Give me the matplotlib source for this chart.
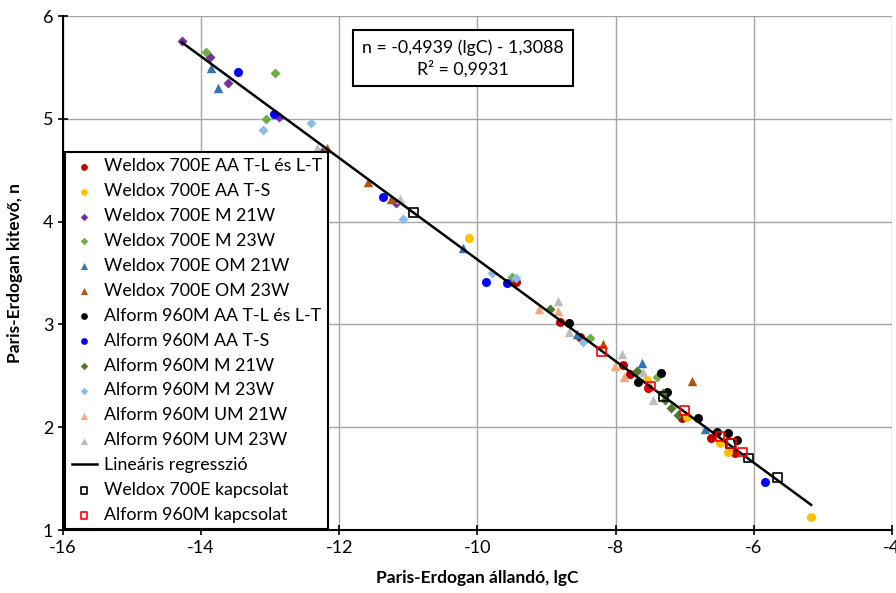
import matplotlib
matplotlib.use("Agg")
import matplotlib.pyplot as plt
import numpy as np

plt.rcParams['font.family'] = ['Lato', 'DejaVu Sans']
plt.rcParams['axes.unicode_minus'] = False

# data (lgC, n)
w_aa_tl_x = [-9.44, -8.81, -8.52, -7.89, -7.79, -7.53, -7.04, -6.62, -6.27]
w_aa_tl_y = [3.41, 3.02, 2.88, 2.61, 2.52, 2.38, 2.09, 1.90, 1.75]
w_aa_ts_x = [-10.12, -7.55, -6.97, -6.49, -6.37, -5.17]
w_aa_ts_y = [3.84, 2.46, 2.10, 1.85, 1.76, 1.13]
w_m21_x = [-14.28, -13.87, -13.61, -12.87, -12.25, -11.18]
w_m21_y = [5.76, 5.60, 5.35, 5.02, 4.68, 4.18]
w_m23_x = [-13.93, -12.93, -13.06, -9.50, -8.37, -7.40]
w_m23_y = [5.65, 5.45, 5.00, 3.46, 2.87, 2.49]
w_om21_x = [-13.86, -13.76, -10.21, -8.56, -7.62, -6.71]
w_om21_y = [5.49, 5.30, 3.74, 2.91, 2.62, 1.98]
w_om23_x = [-12.18, -11.58, -11.25, -8.18, -6.89]
w_om23_y = [4.72, 4.39, 4.22, 2.81, 2.45]
a_aa_tl_x = [-8.68, -7.34, -7.68, -7.26, -6.81, -6.53, -6.37, -6.24]
a_aa_tl_y = [3.01, 2.53, 2.44, 2.34, 2.09, 1.95, 1.94, 1.88]
a_aa_ts_x = [-13.47, -12.94, -11.37, -9.88, -9.57, -5.84]
a_aa_ts_y = [5.46, 5.05, 4.24, 3.41, 3.40, 1.47]
a_m21_x = [-8.95, -7.69, -7.31, -7.29, -7.20, -7.10]
a_m21_y = [3.15, 2.55, 2.33, 2.26, 2.19, 2.12]
a_m23_x = [-13.10, -12.41, -11.08, -9.79, -9.44, -8.47]
a_m23_y = [4.89, 4.96, 4.03, 3.50, 3.45, 2.83]
a_um21_x = [-9.11, -8.83, -8.01, -7.88]
a_um21_y = [3.15, 3.13, 2.60, 2.49]
a_um23_x = [-12.32, -11.12, -8.83, -8.68, -7.91, -7.60, -7.46]
a_um23_y = [4.72, 4.22, 3.23, 2.93, 2.71, 2.54, 2.26]
w_kap_x = [-10.93, -7.31, -6.34, -6.08, -5.66]
w_kap_y = [4.09, 2.30, 1.84, 1.70, 1.51]
a_kap_x = [-8.20, -7.50, -7.00, -6.49, -6.32, -6.16]
a_kap_y = [2.74, 2.40, 2.16, 1.91, 1.84, 1.76]

slope = -0.4939
intercept = -1.3088
fit_x = [-14.28, -5.17]

fig = plt.figure(figsize=(8.96, 5.93), dpi=100)
ax = fig.add_axes([0.0703, 0.1062, 0.9252, 0.8668])

series = [
    (w_aa_tl_x, w_aa_tl_y, 'o', '#C00000', 42, 'Weldox 700E AA T-L és L-T'),
    (w_aa_ts_x, w_aa_ts_y, 'o', '#FFC000', 42, 'Weldox 700E AA T-S'),
    (w_m21_x, w_m21_y, 'D', '#7030A0', 26, 'Weldox 700E M 21W'),
    (w_m23_x, w_m23_y, 'D', '#70AD47', 26, 'Weldox 700E M 23W'),
    (w_om21_x, w_om21_y, '^', '#2E75B6', 46, 'Weldox 700E OM 21W'),
    (w_om23_x, w_om23_y, '^', '#B4540F', 46, 'Weldox 700E OM 23W'),
    (a_aa_tl_x, a_aa_tl_y, 'o', '#000000', 42, 'Alform 960M AA T-L és L-T'),
    (a_aa_ts_x, a_aa_ts_y, 'o', '#0000FF', 42, 'Alform 960M AA T-S'),
    (a_m21_x, a_m21_y, 'D', '#4E7A2E', 26, 'Alform 960M M 21W'),
    (a_m23_x, a_m23_y, 'D', '#8DBCE8', 26, 'Alform 960M M 23W'),
    (a_um21_x, a_um21_y, '^', '#F4A878', 46, 'Alform 960M UM 21W'),
    (a_um23_x, a_um23_y, '^', '#BDBDBD', 46, 'Alform 960M UM 23W'),
]

handles = []
for xs, ys, m, c, s, lab in series:
    h = ax.scatter(xs, ys, marker=m, s=s, color=c, linewidths=0, label=lab, zorder=3)
    handles.append(h)

fx = np.array(fit_x)
line, = ax.plot(fx, slope * fx + intercept, color='black', lw=1.8, zorder=4,
                label='Lineáris regresszió')
handles.append(line)

h1 = ax.scatter(w_kap_x, w_kap_y, marker='s', s=40, facecolors='none',
                edgecolors='black', linewidths=1.2, zorder=5, label='Weldox 700E kapcsolat')
h2 = ax.scatter(a_kap_x, a_kap_y, marker='s', s=40, facecolors='none',
                edgecolors='#FF0000', linewidths=1.2, zorder=5, label='Alform 960M kapcsolat')
handles += [h1, h2]

ax.set_xlim(-16, -4)
ax.set_ylim(1, 6)
ax.set_xticks(range(-16, -3, 2))
ax.set_yticks(range(1, 7))
ax.grid(True, color='#A6A6A6', lw=1)
ax.set_axisbelow(True)
for side in ['top', 'right']:
    ax.spines[side].set_visible(False)
for side in ['left', 'bottom']:
    ax.spines[side].set_color('black')
    ax.spines[side].set_linewidth(1.5)
ax.tick_params(direction='inout', length=7, width=1.2, labelsize=13, color='black')

ax.set_xlabel('Paris-Erdogan állandó, lgC', fontsize=12.5, fontweight='bold', labelpad=10)
ax.set_ylabel('Paris-Erdogan kitevő, n', fontsize=12.5, fontweight='bold', labelpad=14)

leg = ax.legend(handles=handles, loc='upper left', bbox_to_anchor=(0.003, 0.735),
                fontsize=12.8, frameon=True, fancybox=False, edgecolor='black',
                framealpha=1, borderpad=0.35, labelspacing=0.5, handlelength=1.4,
                handletextpad=0.4, borderaxespad=0, scatterpoints=1, markerscale=0.75)
leg.get_frame().set_linewidth(1.5)

ax.text(0.4825, 0.918, 'n = -0,4939 (lgC) - 1,3088\nR² = 0,9931', transform=ax.transAxes,
        ha='center', va='center', fontsize=12.8, linespacing=1.3,
        bbox=dict(boxstyle='square,pad=0.5', facecolor='white', edgecolor='black', lw=1.5),
        zorder=6)

fig.savefig('out.png', dpi=100)
